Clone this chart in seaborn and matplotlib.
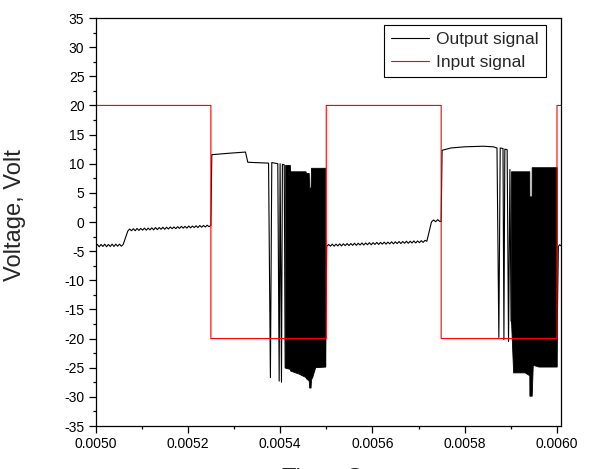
import numpy as np
import pandas as pd
import matplotlib
matplotlib.use("Agg")
import matplotlib.pyplot as plt
from matplotlib.ticker import MultipleLocator, FormatStrFormatter
import seaborn as sns

# ---------------- data ----------------
# Input square wave: corner times (s) and voltages (V)
input_t = [0.005000, 0.005002, 0.005250, 0.005250, 0.005500, 0.005500,
           0.005749, 0.005749, 0.006000, 0.006000, 0.0060087]
input_v = [-20, 20, 20, -20, -20, 20, 20, -20, -20, 20, 20]

# Output: low-level segments with small ripple (values read point by point)
ripple_a1_span = (0.005000, 0.005060)
ripple_a1 = [-4.2, -3.85, -4.25, -3.85, -4.2, -3.8, -4.25, -3.85, -4.2, -3.8,
             -4.2, -3.8, -4.15, -3.8, -4.15, -3.85]
ripple_a2_span = (0.005070, 0.005246)
ripple_a2 = [-1.55, -1.2, -1.5, -1.15, -1.5, -1.1, -1.45, -1.1, -1.4, -1.05,
             -1.4, -1.05, -1.35, -1.0, -1.35, -0.95, -1.3, -0.95, -1.25, -0.9,
             -1.25, -0.9, -1.2, -0.85, -1.15, -0.85, -1.15, -0.8, -1.1, -0.75,
             -1.05, -0.75, -1.05, -0.7, -1.0, -0.7, -0.95, -0.65, -0.95, -0.6,
             -0.9, -0.6, -0.85, -0.55, -0.8]
ripple_b1_span = (0.005501, 0.005718)
ripple_b1 = [-4.2, -3.85, -4.15, -3.8, -4.15, -3.8, -4.1, -3.75, -4.1, -3.75,
             -4.05, -3.7, -4.05, -3.7, -4.0, -3.65, -4.0, -3.65, -3.95, -3.6,
             -3.95, -3.6, -3.9, -3.55, -3.9, -3.55, -3.85, -3.5, -3.85, -3.5,
             -3.8, -3.45, -3.8, -3.45, -3.75, -3.4, -3.75, -3.4, -3.7, -3.35,
             -3.7, -3.35, -3.65, -3.3, -3.65, -3.3, -3.6, -3.25, -3.6, -3.25,
             -3.55, -3.2, -3.5, -3.15, -3.3]
ripple_b2_span = (0.005728, 0.005746)
ripple_b2 = [0.0, 0.35, 0.05, 0.4, 0.1]
ripple_c_span = (0.006003, 0.0060087)
ripple_c = [-4.2, -3.9, -4.1]

# Output: pulses during the negative input half-cycles (incl. single spikes)
pulse1_t = [0.005250, 0.005252, 0.005290, 0.005325, 0.005330, 0.005375,
            0.005379, 0.005382, 0.005395, 0.005398, 0.005400, 0.005403,
            0.005405, 0.005409, 0.005411, 0.005498]
pulse1_v = [-0.6, 11.55, 11.8, 12.0, 10.25, 10.1, -26.7, 10.2, 10.0, -27.3,
            10.0, -27.5, 9.9, 9.8, -25.0, -24.8]
pulse2_t = [0.005749, 0.005751, 0.005770, 0.005800, 0.005840, 0.005862,
            0.005870, 0.005874, 0.005877, 0.005883, 0.005885, 0.005887,
            0.005892, 0.005895, 0.005898, 0.0059004, 0.0059993]
pulse2_v = [0.1, 12.3, 12.7, 12.9, 13.0, 12.9, 12.7, -19.8, 12.7, 12.6,
            -20.2, 12.5, 12.4, -20.5, 9.0, -17.0, -24.8]

# Output: envelopes of the dense switching bursts
burst1_t = [0.005411, 0.005421, 0.005422, 0.005440, 0.005455, 0.005456,
            0.005462, 0.005463, 0.005466, 0.005467, 0.005470, 0.005476, 0.005498]
burst1_hi = [9.8, 9.8, 8.7, 8.7, 8.7, 8.4, 8.4, 5.9, 5.9, 9.3, 9.3, 9.3, 9.3]
burst1_lo = [-25.0, -25.2, -25.5, -26.0, -26.6, -26.8, -27.2, -28.4, -28.4,
             -27.0, -26.5, -24.9, -24.8]
burst2_t = [0.0059004, 0.0059050, 0.0059300, 0.0059400, 0.0059402, 0.0059430,
            0.0059450, 0.0059452, 0.0059475, 0.0059600, 0.0059993]
burst2_hi = [8.7, 8.7, 8.7, 8.7, 4.4, 4.4, 4.4, 9.4, 9.4, 9.4, 9.4]
burst2_lo = [-17.0, -25.8, -25.8, -26.3, -29.8, -29.8, -29.8, -29.8, -24.5,
             -24.8, -24.8]

x_ticks = [0.0050, 0.0052, 0.0054, 0.0056, 0.0058, 0.0060]
y_ticks = list(range(-35, 40, 5))

# ---------------- assemble output series ----------------
def seg(span, vals):
    return list(np.linspace(span[0], span[1], len(vals))), list(vals)

parts = [seg(ripple_a1_span, ripple_a1), seg(ripple_a2_span, ripple_a2),
         (pulse1_t, pulse1_v), seg(ripple_b1_span, ripple_b1),
         seg(ripple_b2_span, ripple_b2), (pulse2_t, pulse2_v),
         seg(ripple_c_span, ripple_c)]
out_t, out_v = [], []
for t, v in parts:
    out_t += list(t)
    out_v += list(v)

out_df = pd.DataFrame({"Time": out_t, "Voltage": out_v})
in_df = pd.DataFrame({"Time": input_t, "Voltage": input_v})

# ---------------- plotting ----------------
sns.set_style("ticks")
plt.rcParams["font.family"] = ["Liberation Sans", "DejaVu Sans"]
plt.rcParams["axes.unicode_minus"] = False

fig = plt.figure(figsize=(5.9, 4.69), dpi=100)
ax = fig.add_axes([95.5 / 590, 43 / 469, 465.5 / 590, 408 / 469])

sns.lineplot(data=out_df, x="Time", y="Voltage", ax=ax, color="black",
             lw=0.8, sort=False, estimator=None, label="Output signal")
for bt, bh, bl in [(burst1_t, burst1_hi, burst1_lo),
                   (burst2_t, burst2_hi, burst2_lo)]:
    ax.fill_between(bt, bl, bh, color="black", lw=0.6, edgecolor="black")
sns.lineplot(data=in_df, x="Time", y="Voltage", ax=ax, color="#ff0000",
             lw=0.8, sort=False, estimator=None, label="Input signal")

ax.set_xlim(0.0050, 0.0060087)
ax.set_ylim(-35, 35)
ax.set_xticks(x_ticks)
ax.set_yticks(y_ticks)
ax.xaxis.set_major_formatter(FormatStrFormatter("%.4f"))
ax.xaxis.set_minor_locator(MultipleLocator(0.0001))
ax.yaxis.set_minor_locator(MultipleLocator(2.5))
ax.tick_params(axis="both", which="major", direction="out", length=5,
               width=0.9, labelsize=10, color="black", labelcolor="black",
               top=False, right=False, pad=3)
ax.tick_params(axis="both", which="minor", direction="out", length=2.5,
               width=0.9, color="black", top=False, right=False)
for sp in ax.spines.values():
    sp.set_visible(True)
    sp.set_color("black")
    sp.set_linewidth(0.9)

ax.set_ylabel("Voltage, Volt", fontsize=17)
ax.yaxis.set_label_coords(-0.15, 0.517)
# the x-axis title sits mostly below the bottom edge, as in the reference
ax.set_xlabel("Time, Sec", fontsize=17, va="top")
ax.xaxis.set_label_coords(0.514, -0.1035)

leg = ax.legend(loc="upper right", bbox_to_anchor=(546 / 590, 1 - 25 / 469),
                bbox_transform=fig.transFigure, fontsize=12.5, frameon=True,
                fancybox=False, framealpha=1, edgecolor="black",
                borderpad=0.4, labelspacing=0.45, handlelength=2.2,
                handletextpad=0.4, borderaxespad=0)
leg.get_frame().set_linewidth(0.8)

fig.savefig("out.png", dpi=100)
